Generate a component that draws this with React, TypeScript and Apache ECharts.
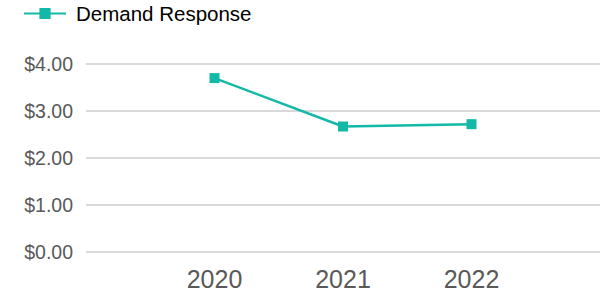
import React, { useEffect, useRef } from "react";
import * as echarts from "echarts";

const years = [2020, 2021, 2022];
const demandResponse = [3.7, 2.67, 2.72];
const seriesName = "Demand Response";

export default function App() {
  const ref = useRef<HTMLDivElement>(null);
  useEffect(() => {
    if (!ref.current) return;
    const chart = echarts.init(ref.current, null, { renderer: "svg" });
    chart.setOption({
      animation: false,
      legend: {
        left: 18,
        top: -2,
        itemWidth: 42,
        itemHeight: 14,
        data: [seriesName],
        textStyle: {
          fontFamily: "Liberation Sans, Arial, sans-serif",
          fontSize: 20.5,
          color: "#000",
          padding: [0, 0, 0, 5],
        },
      },
      grid: { left: 86, right: 8, top: 64, bottom: 42 },
      xAxis: {
        type: "value",
        min: 2019,
        max: 2023,
        interval: 1,
        axisLine: { show: false },
        axisTick: { show: false },
        splitLine: { show: false },
        axisLabel: {
          margin: 14,
          fontFamily: "Liberation Sans, Arial, sans-serif",
          fontSize: 25,
          color: "#595959",
          formatter: (v: number) => (years.includes(v) ? String(v) : ""),
        },
      },
      yAxis: {
        type: "value",
        min: 0,
        max: 4,
        interval: 1,
        axisLine: { show: false },
        axisTick: { show: false },
        splitLine: { lineStyle: { color: "#d9d9d9", width: 2 } },
        axisLabel: {
          margin: 13,
          fontFamily: "Liberation Sans, Arial, sans-serif",
          fontSize: 19.5,
          color: "#595959",
          formatter: (v: number) => "$" + v.toFixed(2),
        },
      },
      series: [
        {
          name: seriesName,
          type: "line",
          data: years.map((y, i) => [y, demandResponse[i]]),
          symbol: "rect",
          symbolSize: 10,
          itemStyle: { color: "#12b9a6" },
          lineStyle: { color: "#12b9a6", width: 2.5 },
        },
      ],
    });
    return () => chart.dispose();
  }, []);
  return <div ref={ref} style={{ width: 608, height: 294, position: "absolute", left: 0, top: 0 }} />;
}
